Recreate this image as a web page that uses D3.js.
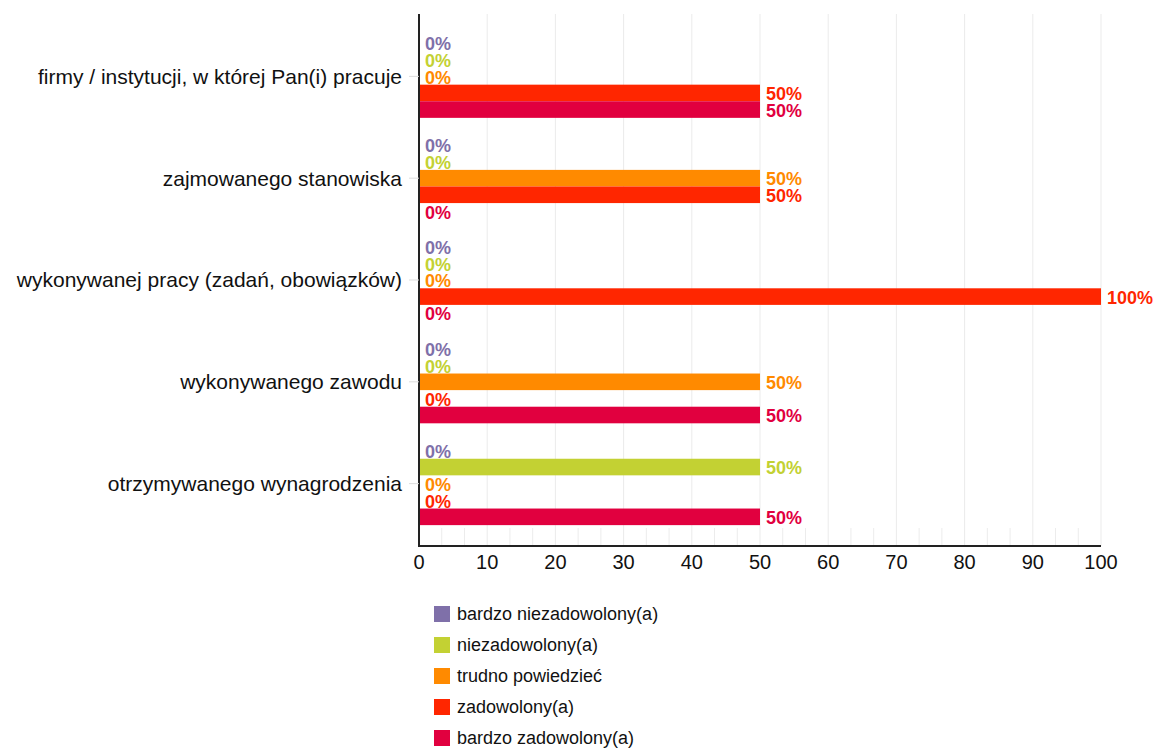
<!DOCTYPE html>
<html>
<head>
<meta charset="utf-8">
<script src="https://cdn.jsdelivr.net/npm/d3@7"></script>
<style>
  body { margin: 0; background: #fff; }
  text { font-family: "Liberation Sans", Arial, sans-serif; }
</style>
</head>
<body>
<svg id="chart"></svg>
<script>
// data
var categories = [
    "firmy / instytucji, w której Pan(i) pracuje",
    "zajmowanego stanowiska",
    "wykonywanej pracy (zadań, obowiązków)",
    "wykonywanego zawodu",
    "otrzymywanego wynagrodzenia"
];
var seriesNames = ["bardzo niezadowolony(a)", "niezadowolony(a)", "trudno powiedzieć", "zadowolony(a)", "bardzo zadowolony(a)"];
var seriesColors = ["#7f70a9", "#c3d133", "#ff8a00", "#ff2600", "#e1003f"];
var bardzoNiezadowolony = [0, 0, 0, 0, 0];
var niezadowolony = [0, 0, 0, 0, 50];
var trudnoPowiedziec = [0, 50, 0, 50, 0];
var zadowolony = [50, 50, 100, 0, 0];
var bardzoZadowolony = [50, 0, 0, 50, 50];
var seriesValues = [bardzoNiezadowolony, niezadowolony, trudnoPowiedziec, zadowolony, bardzoZadowolony];
var xTicks = [0, 10, 20, 30, 40, 50, 60, 70, 80, 90, 100];

var width = 1156, height = 749;
var svg = d3.select('#chart').attr('width', width).attr('height', height);

var plotLeft = 419, plotRight = 1101, plotTop = 14, plotBottom = 546;

var x = d3.scaleLinear().domain([0, 100]).range([plotLeft, plotRight]);
var y = d3.scaleBand().domain(categories).range([plotTop, plotBottom])
    .paddingInner(0.185).paddingOuter(0.205);
var ySub = d3.scaleBand().domain(d3.range(seriesNames.length)).range([0, y.bandwidth()]);

// 1. gridlines
svg.append('g').selectAll('line')
    .data(xTicks.slice(1))
    .enter().append('line')
    .attr('x1', d => x(d)).attr('x2', d => x(d))
    .attr('y1', plotTop).attr('y2', plotBottom)
    .style('stroke', '#ebebeb').style('stroke-width', 1);

// minor ticks near the axis
var minor = [];
xTicks.slice(0, -1).forEach(function(t) { minor.push(t + 10 / 3, t + 20 / 3); });
svg.append('g').selectAll('line')
    .data(minor)
    .enter().append('line')
    .attr('x1', d => x(d)).attr('x2', d => x(d))
    .attr('y1', plotBottom - 18).attr('y2', plotBottom)
    .style('stroke', '#ececec').style('stroke-width', 1);

// 2. bars
var rows = [];
categories.forEach(function(c, ci) {
    seriesValues.forEach(function(vals, si) {
        rows.push({cat: c, s: si, v: vals[ci]});
    });
});

svg.append('g').selectAll('rect')
    .data(rows.filter(d => d.v > 0))
    .enter().append('rect')
    .attr('x', x(0))
    .attr('y', d => y(d.cat) + ySub(d.s))
    .attr('width', d => x(d.v) - x(0))
    .attr('height', ySub.bandwidth())
    .style('fill', d => seriesColors[d.s]);

// 3. value labels
svg.append('g').selectAll('text')
    .data(rows)
    .enter().append('text')
    .attr('x', d => x(d.v) + 6)
    .attr('y', d => y(d.cat) + ySub(d.s) + ySub.bandwidth() / 2 + 1)
    .attr('dy', '0.35em')
    .style('font-size', '18px')
    .style('font-weight', 'bold')
    .style('fill', d => seriesColors[d.s])
    .text(d => d.v + '%');

// 4. axes
svg.append('line')
    .attr('x1', plotLeft).attr('x2', plotLeft)
    .attr('y1', plotTop).attr('y2', plotBottom + 1)
    .style('stroke', '#222').style('stroke-width', 2);
svg.append('line')
    .attr('x1', plotLeft - 1).attr('x2', plotRight)
    .attr('y1', plotBottom).attr('y2', plotBottom)
    .style('stroke', '#222').style('stroke-width', 2);

svg.append('g').selectAll('text')
    .data(xTicks)
    .enter().append('text')
    .attr('x', d => x(d))
    .attr('y', plotBottom + 16)
    .attr('dy', '0.35em')
    .attr('text-anchor', 'middle')
    .style('font-size', '20px')
    .style('fill', '#111')
    .text(d => d);

var catG = svg.append('g').selectAll('g')
    .data(categories)
    .enter().append('g')
    .attr('transform', d => 'translate(0,' + (y(d) + y.bandwidth() / 2) + ')');
catG.append('line')
    .attr('x1', plotLeft - 10).attr('x2', plotLeft)
    .style('stroke', '#ddd');
catG.append('text')
    .attr('x', plotLeft - 17)
    .attr('dy', '0.35em')
    .attr('text-anchor', 'end')
    .style('font-size', '21px')
    .style('fill', '#111')
    .text(d => d);

// 5. legend
var legend = svg.append('g').selectAll('g')
    .data(seriesNames)
    .enter().append('g')
    .attr('transform', (d, i) => 'translate(434,' + (614 + i * 31) + ')');
legend.append('rect')
    .attr('x', 0).attr('y', -8)
    .attr('width', 16).attr('height', 16)
    .style('fill', (d, i) => seriesColors[i]);
legend.append('text')
    .attr('x', 23)
    .attr('dy', '0.35em')
    .style('font-size', '18px')
    .style('fill', '#111')
    .text(d => d);
</script>
</body>
</html>
